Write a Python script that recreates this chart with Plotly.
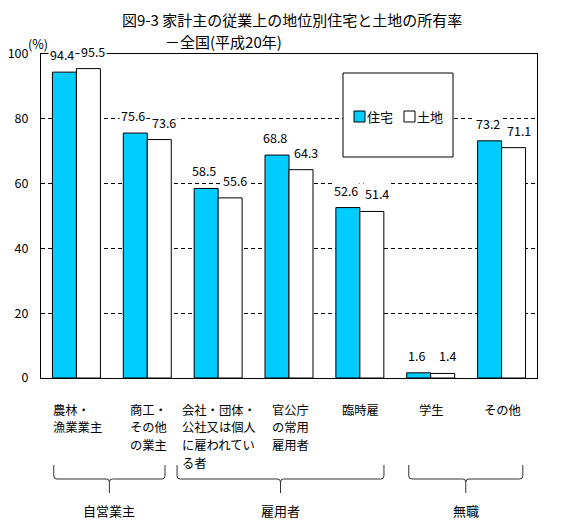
import plotly.graph_objects as go

# ---- data ----
categories = ["農林・<br>漁業業主", "商工・<br>その他<br>の業主", "会社・団体・<br>公社又は個人<br>に雇われてい<br>る者",
              "官公庁<br>の常用<br>雇用者", "臨時雇", "学生", "その他"]
housing = [94.4, 75.6, 58.5, 68.8, 52.6, 1.6, 73.2]   # 住宅
land = [95.5, 73.6, 55.6, 64.3, 51.4, 1.4, 71.1]      # 土地
series_names = ["住宅", "土地"]
group_names = ["自営業主", "雇用者", "無職"]
y_ticks = [0, 20, 40, 60, 80, 100]
title_line1 = "図9-3 家計主の従業上の地位別住宅と土地の所有率"
title_line2 = "－全国(平成20年)"

# ---- layout constants ----
W, H = 569, 526
L, R, T, B = 41, 537, 54, 378
BLUE = "#00CCFF"
FONT = "Noto Sans CJK JP"
CAT_FONT = 12.3
CAT_LINE = 17.5


def py(p):
    """pixel y -> paper y"""
    return (B - p) / (B - T)


def px(p):
    """pixel x -> paper x"""
    return (p - L) / (R - L)


xs = list(range(len(categories)))

fig = go.Figure()
fig.add_trace(go.Bar(x=xs, y=housing, name=series_names[0],
                     marker=dict(color=BLUE, line=dict(color="black", width=1)),
                     showlegend=False, hoverinfo="skip"))
fig.add_trace(go.Bar(x=xs, y=land, name=series_names[1],
                     marker=dict(color="white", line=dict(color="black", width=1)),
                     showlegend=False, hoverinfo="skip"))

annotations = []
shapes = []

# value labels
for i, (h, l) in enumerate(zip(housing, land)):
    annotations.append(dict(x=i, y=h, xref="x", yref="y", text=f"{h:.1f}", showarrow=False,
                            xshift=-14, yshift=6, yanchor="bottom", bgcolor="white",
                            borderpad=1, font=dict(size=12.5, family=FONT, color="black")))
    annotations.append(dict(x=i, y=l, xref="x", yref="y", text=f"{l:.1f}", showarrow=False,
                            xshift=17, yshift=6, yanchor="bottom", bgcolor="white",
                            borderpad=1, font=dict(size=12.5, family=FONT, color="black")))

# category labels: centred block, lines left-aligned
for i, c in enumerate(categories):
    lines = c.split("<br>")
    block_w = max(len(s) for s in lines) * CAT_FONT
    for k, s in enumerate(lines):
        annotations.append(dict(x=i, y=py(410 + k * CAT_LINE), xref="x", yref="paper", text=s,
                                showarrow=False, xanchor="left", yanchor="middle",
                                xshift=-block_w / 2, borderpad=0,
                                font=dict(size=CAT_FONT, family=FONT, color="black")))

# group brackets
bracket_spans = [(-0.32, 1.25), (1.42, 4.34), (4.69, 6.30)]
yT, yHz, yBt = py(465), py(479), py(493)
rx, ry = 0.045, 3 / (B - T)
for name, (x0, x1) in zip(group_names, bracket_spans):
    xm = (x0 + x1) / 2
    path = (f"M {x0},{yT} L {x0},{yHz + ry} Q {x0},{yHz} {x0 + rx},{yHz} "
            f"L {xm - rx},{yHz} Q {xm},{yHz} {xm},{yHz - ry} L {xm},{yBt} "
            f"M {xm},{yHz - ry} Q {xm},{yHz} {xm + rx},{yHz} "
            f"L {x1 - rx},{yHz} Q {x1},{yHz} {x1},{yHz + ry} L {x1},{yT}")
    shapes.append(dict(type="path", path=path, xref="x", yref="paper",
                       line=dict(color="#333333", width=1)))
    annotations.append(dict(x=xm, y=py(510), xref="x", yref="paper", text=name, showarrow=False,
                            xanchor="center", yanchor="middle",
                            font=dict(size=13, family=FONT, color="black")))

# legend box (manual)
shapes.append(dict(type="rect", xref="paper", yref="paper", x0=px(343), x1=px(453),
                   y0=py(157), y1=py(73), fillcolor="white", line=dict(color="black", width=1),
                   layer="above"))
for color, name, sx in [(BLUE, series_names[0], 354), ("white", series_names[1], 404)]:
    shapes.append(dict(type="rect", xref="paper", yref="paper", x0=px(sx), x1=px(sx + 11),
                       y0=py(122), y1=py(111), fillcolor=color, line=dict(color="black", width=1),
                       layer="above"))
    annotations.append(dict(x=px(sx + 11), y=py(116.5), xref="paper", yref="paper", text=name,
                            showarrow=False, xanchor="left", yanchor="middle",
                            font=dict(size=13, family=FONT, color="black")))

# titles and unit
annotations.append(dict(x=px(292), y=py(20), xref="paper", yref="paper", text=title_line1,
                        showarrow=False, xanchor="center", yanchor="middle",
                        font=dict(size=15, family=FONT, color="black")))
annotations.append(dict(x=px(163), y=py(41), xref="paper", yref="paper", text=title_line2,
                        showarrow=False, xanchor="left", yanchor="middle",
                        font=dict(size=15, family=FONT, color="black")))
annotations.append(dict(x=px(38), y=py(43), xref="paper", yref="paper", text="(%)",
                        showarrow=False, xanchor="center", yanchor="middle",
                        font=dict(size=12.5, family=FONT, color="black")))

fig.update_layout(
    width=W, height=H,
    margin=dict(l=L, r=W - R, t=T, b=H - B, autoexpand=False),
    paper_bgcolor="white", plot_bgcolor="white",
    barmode="group", bargap=0.323, bargroupgap=0,
    font=dict(family=FONT, color="black"),
    annotations=annotations, shapes=shapes,
    showlegend=False, hovermode=False,
)
fig.update_xaxes(range=[-0.5, len(categories) - 0.5], showticklabels=False, ticks="",
                 showgrid=False, zeroline=False, showline=True, mirror=True, automargin=False,
                 linecolor="black", linewidth=1, fixedrange=True)
fig.update_yaxes(range=[0, 100], tickvals=y_ticks, ticks="", showgrid=True, automargin=False,
                 gridcolor="black", gridwidth=1, griddash="4px,3px", zeroline=False,
                 showline=True, mirror=True, linecolor="black", linewidth=1,
                 ticklabelstandoff=9, tickfont=dict(size=12.5, family=FONT, color="black"),
                 fixedrange=True)

fig.write_html("out.html", config={"displayModeBar": False, "staticPlot": True},
               post_script="document.body.style.margin='0';")
